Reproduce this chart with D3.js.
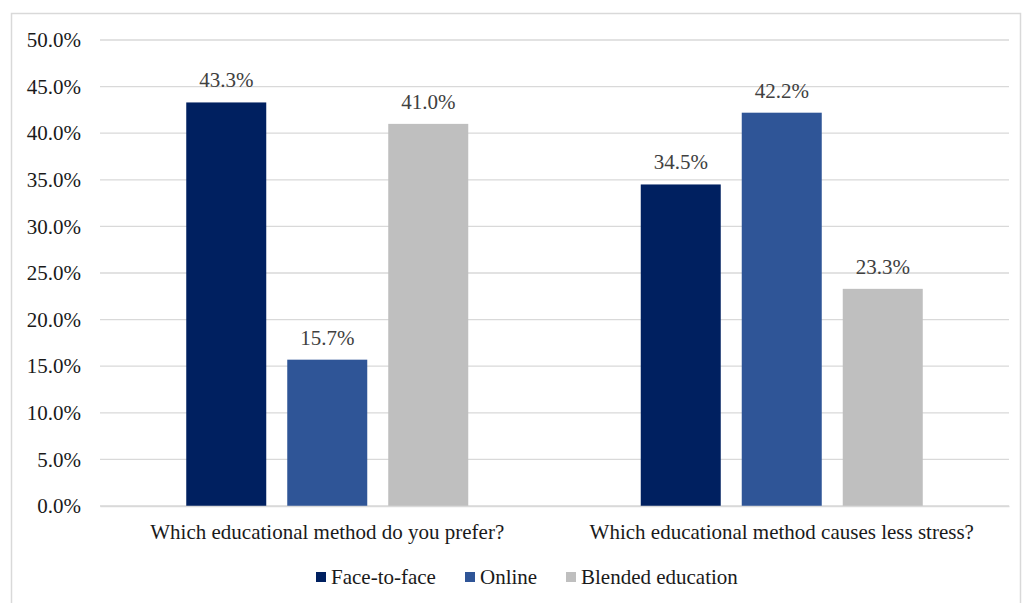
<!DOCTYPE html>
<html><head><meta charset="utf-8">
<script src="https://cdn.jsdelivr.net/npm/d3@7"></script>
</head><body>
<svg id="c" width="1022" height="603"></svg>
<script>
const categories = ["Which educational method do you prefer?", "Which educational method causes less stress?"];
const seriesNames = ["Face-to-face", "Online", "Blended education"];
const faceToFace = [43.3, 34.5];
const online = [15.7, 42.2];
const blended = [41.0, 23.3];
const yTicks = [0, 5, 10, 15, 20, 25, 30, 35, 40, 45, 50];
const colors = ["#002060", "#2F5597", "#BFBFBF"];

d3.select("body").style("margin", "0").style("background", "#fff");
const seriesValues = [faceToFace, online, blended];
const svg = d3.select("#c").style("display", "block");
const font = '"Liberation Serif"';

svg.append("rect").attr("x", 11.5).attr("y", 13.5).attr("width", 1009).attr("height", 600)
  .attr("fill", "none").attr("stroke", "#d9d9d9").attr("stroke-width", 1.5);

const L = 100, R = 1009, T = 40, B = 506;
const x0 = d3.scaleBand().domain(categories).range([L, R]);
const x1 = d3.scaleBand().domain(seriesNames).range([0, x0.bandwidth()]).paddingInner(21/101).paddingOuter((x0.bandwidth()/2 - 1.5*80 - 21)/101);
const y = d3.scaleLinear().domain([0, 50]).range([B, T]);

svg.append("g").selectAll("line").data(yTicks).join("line")
  .attr("x1", L).attr("x2", R).attr("y1", d => y(d)).attr("y2", d => y(d))
  .attr("stroke", "#d9d9d9").attr("stroke-width", 1.3);

const yAxis = d3.axisLeft(y).tickValues(yTicks).tickFormat(d => d.toFixed(1) + "%").tickSize(0).tickPadding(19);
const ga = svg.append("g").attr("transform", `translate(${L},0)`).call(yAxis);
ga.select(".domain").remove();
ga.selectAll("text").style("font-family", font).attr("font-size", 21).attr("fill", "#1a1a1a");

const groups = svg.append("g").selectAll("g").data(categories).join("g")
  .attr("transform", d => `translate(${x0(d)},0)`);
groups.each(function(cat, ci) {
  const g = d3.select(this);
  seriesNames.forEach((s, si) => {
    const v = seriesValues[si][ci];
    g.append("rect").attr("x", x1(s)).attr("width", x1.bandwidth())
      .attr("y", y(v)).attr("height", y(0) - y(v)).attr("fill", colors[si]);
    g.append("text").attr("x", x1(s) + x1.bandwidth()/2).attr("y", y(v) - 15)
      .attr("text-anchor", "middle").style("font-family", font).attr("font-size", 21)
      .attr("fill", "#404040").text(v.toFixed(1) + "%");
  });
});

const gx = svg.append("g").attr("transform", `translate(0,${B})`)
  .call(d3.axisBottom(x0).tickSize(0).tickPadding(18));
gx.select(".domain").attr("stroke", "#d9d9d9").attr("stroke-width", 1.3);
gx.selectAll("text").style("font-family", font).attr("font-size", 21).attr("fill", "#1a1a1a");

const legX = [316, 465, 566];
const leg = svg.append("g");
seriesNames.forEach((s, i) => {
  leg.append("rect").attr("x", legX[i]).attr("y", 572).attr("width", 10).attr("height", 10).attr("fill", colors[i]);
  leg.append("text").attr("x", legX[i] + 15).attr("y", 584).style("font-family", font).attr("font-size", 21)
    .attr("fill", "#1a1a1a").text(s);
});
</script>
</body></html>
